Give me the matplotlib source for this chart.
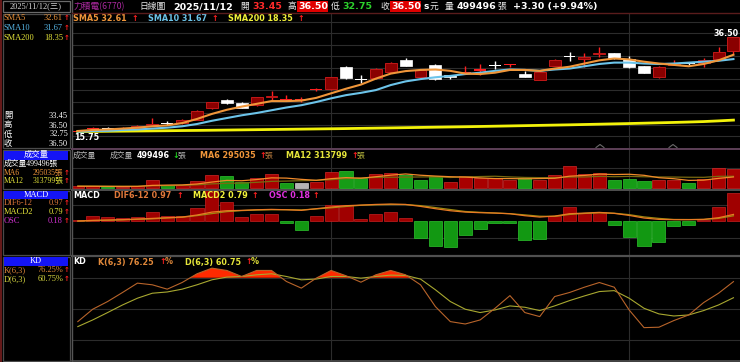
import matplotlib
matplotlib.use('Agg')
import matplotlib.pyplot as plt
from matplotlib.patches import Rectangle
from matplotlib.lines import Line2D

# ---------------- data ----------------
opens  = [15.80,16.40,16.65,16.40,16.60,17.30,17.62,17.70,18.40,20.90,22.70,22.00,21.60,23.30,22.80,22.75,25.00,25.10,30.00,27.40,
          27.50,28.90,31.50,27.70,30.40,28.20,28.60,29.20,30.30,30.45,28.34,27.10,30.16,32.25,31.60,32.80,32.93,31.60,30.16,27.70,
          30.40,30.80,30.90,31.60,33.45]
highs  = [16.05,16.90,16.90,16.80,17.20,18.70,18.10,18.60,20.50,22.40,23.00,22.30,23.40,24.60,23.80,23.30,25.30,27.80,30.10,28.20,
          29.70,31.00,31.85,29.40,30.60,28.30,30.10,30.50,31.30,30.70,29.14,29.00,31.60,33.30,33.07,34.24,33.00,32.33,30.20,30.10,
          31.47,30.90,31.80,34.40,36.50]
lows   = [15.75,16.10,16.30,16.30,16.50,17.10,17.30,17.60,18.30,20.70,21.90,20.90,21.40,22.70,22.50,22.20,24.80,25.00,27.30,26.50,
          27.40,28.80,30.10,27.60,27.10,27.30,28.40,28.20,29.40,29.90,27.80,27.00,30.10,31.30,30.01,32.20,31.70,29.80,28.60,27.60,
          30.30,30.40,29.87,31.50,32.75]
closes = [16.00,16.60,16.55,16.70,17.00,17.60,17.55,18.40,20.40,22.30,22.00,21.10,23.30,23.60,22.90,22.90,25.20,27.70,27.50,27.20,
          29.60,30.90,30.20,29.30,27.30,27.70,28.80,29.40,30.10,30.60,27.83,28.90,31.47,32.15,32.20,33.10,31.80,29.87,28.70,30.00,
          30.70,30.60,31.47,33.20,36.50]
sma5   = [15.97,16.20,16.30,16.50,16.70,17.00,17.20,17.70,18.60,19.70,20.60,21.30,21.90,22.50,22.50,22.60,23.20,24.20,25.20,26.10,
          27.40,28.50,29.05,29.30,29.40,29.10,28.50,28.40,28.70,29.30,29.30,29.10,29.60,30.00,30.70,31.40,31.80,31.60,31.10,30.70,
          30.40,30.10,30.60,31.40,32.61]
sma10  = [15.80,15.97,16.00,16.20,16.30,16.50,16.70,17.00,17.50,18.20,18.80,19.40,19.90,20.50,21.10,21.60,22.30,23.10,23.80,24.30,
          24.90,26.00,26.80,27.30,27.70,28.00,28.40,28.70,29.10,29.40,29.30,29.10,29.40,29.60,30.10,30.60,30.90,30.90,30.70,30.60,
          30.70,30.90,31.10,31.30,31.67]
sma200 = [15.85,15.88,15.91,15.94,15.97,16.00,16.03,16.07,16.10,16.14,16.18,16.22,16.26,16.30,16.34,16.38,16.42,16.46,16.50,16.55,
          16.60,16.65,16.70,16.75,16.80,16.85,16.90,16.96,17.02,17.08,17.14,17.20,17.26,17.32,17.39,17.46,17.53,17.60,17.68,17.76,
          17.84,17.93,18.03,18.18,18.35]
volume = [44000,62000,27000,27000,53000,205000,89000,89000,178000,338000,320000,151000,276000,365000,134000,142000,160000,418000,
          445000,267000,374000,392000,356000,214000,312000,160000,312000,258000,258000,205000,276000,205000,360000,587000,385000,
          410000,210000,250000,190000,205000,222000,142000,249000,534000,499496]
vol_dir = [1,1,-1,1,1,1,-1,1,1,1,-1,-1,1,1,-1,0,1,1,-1,-1,1,1,-1,-1,-1,1,1,1,1,1,-1,1,1,1,1,1,-1,-1,-1,1,1,-1,1,1,1]
vol_ma6  = [45000,45000,42000,40000,42000,70000,77000,82000,107000,159000,203000,194000,225000,271000,264000,231000,205000,249000,
            277000,261000,301000,343000,375000,341000,319000,301000,291000,269000,252000,251000,245000,252000,260000,315000,336000,
            371000,360000,367000,339000,275000,248000,203000,210000,257000,295035]
vol_ma12 = [55000,52000,50000,48000,47000,60000,65000,70000,85000,110000,125000,132000,151000,177000,185000,195000,204000,222000,
            251000,266000,283000,287000,290000,295000,298000,281000,296000,306000,314000,296000,282000,277000,276000,292000,294000,
            311000,302000,310000,300000,295000,292000,287000,285000,312000,313799]
dif  = [0.09,0.18,0.22,0.27,0.35,0.44,0.53,0.62,0.89,1.28,1.46,1.51,1.59,1.64,1.59,1.51,1.73,1.95,2.13,2.21,
        2.30,2.35,2.30,2.04,1.73,1.46,1.28,1.20,1.15,1.06,0.80,0.62,0.75,1.06,1.15,1.24,1.11,0.84,0.49,0.31,
        0.27,0.27,0.31,0.53,0.97]
macd = [0.08,0.15,0.19,0.25,0.32,0.38,0.50,0.59,0.81,1.08,1.34,1.48,1.55,1.59,1.60,1.57,1.70,1.85,2.03,2.19,
        2.25,2.29,2.28,2.14,1.88,1.62,1.36,1.25,1.16,1.07,0.91,0.73,0.71,0.97,1.10,1.18,1.13,0.94,0.64,0.44,
        0.30,0.29,0.30,0.44,0.79]
osc  = [0.012,0.034,0.026,0.020,0.026,0.060,0.034,0.034,0.084,0.196,0.120,0.028,0.044,0.046,-0.012,-0.056,0.032,0.100,0.104,0.016,
        0.046,0.060,0.024,-0.104,-0.152,-0.160,-0.084,-0.046,-0.008,-0.012,-0.114,-0.110,0.036,0.088,0.054,0.060,-0.024,-0.100,-0.154,-0.126,
        -0.030,-0.020,0.012,0.088,0.180]
k_vals = [37.8,49.7,57.1,65.8,74.8,73.2,69.0,75.4,83.8,89.2,87.0,81.2,87.0,87.0,76.4,70.0,79.6,87.0,81.9,75.7,
          82.8,87.0,82.8,73.2,52.2,37.8,35.5,39.4,50.6,62.8,46.5,42.6,61.9,65.8,70.9,75.4,70.9,49.0,32.0,32.4,
          38.8,44.2,56.1,65.1,76.25]
d_vals = [33.0,39.4,46.5,53.8,60.3,65.1,66.3,69.0,73.2,78.0,80.6,81.2,82.8,83.8,81.2,78.0,78.7,81.2,81.2,79.6,
          81.2,82.5,82.2,78.7,68.4,57.1,49.7,46.5,49.0,52.9,51.6,48.4,52.9,58.0,62.5,66.7,67.6,60.3,50.6,45.2,
          43.2,44.2,48.4,53.8,60.75]
month_starts = [17, 37]

# ---------------- figure helpers ----------------
W, H = 740, 362
fig = plt.figure(figsize=(7.4, 3.62), dpi=100, facecolor='black')

SANS = ['DejaVu Sans', 'Noto Sans CJK TC']
CJK = ['Noto Sans CJK TC', 'DejaVu Sans']
SERIF = ['Liberation Serif', 'Noto Sans CJK TC', 'DejaVu Sans']
HS = 5.8   # panel header font size


def rect(x0, y0, x1, y1):
    return [x0 / W, 1 - y1 / H, (x1 - x0) / W, (y1 - y0) / H]


def ftxt(x, y, s, color, size=6.5, fam=None, weight='normal', ha='left', bg=None):
    kw = {}
    if bg is not None:
        kw['bbox'] = dict(boxstyle='square,pad=0.06', fc=bg, ec='none')
    fig.text(x / W, 1 - y / H, s, color=color, fontsize=size, family=fam or SANS,
             fontweight=weight, ha=ha, va='center', **kw)


def frect(x0, y0, x1, y1, fc='none', ec='none', lw=0.8, z=1):
    fig.add_artist(Rectangle((x0 / W, 1 - y1 / H), (x1 - x0) / W, (y1 - y0) / H,
                             transform=fig.transFigure, fc=fc, ec=ec, lw=lw, zorder=z))


def fline(xs, ys, color, lw=1.0, z=6):
    fig.add_artist(Line2D([v / W for v in xs], [1 - v / H for v in ys], color=color, lw=lw, zorder=z))


def new_ax(y0, y1):
    a = fig.add_axes(rect(72, y0, 740, y1))
    a.set_facecolor('black')
    for s in a.spines.values():
        s.set_visible(False)
    a.set_xticks([]); a.set_yticks([])
    a.set_xlim(-0.39, 44.44)
    return a


def hgrid(a, y0, y1, pys, color='#2c2c2c'):
    for py in pys:
        f = (y1 - py) / (y1 - y0)
        a.plot([0, 1], [f, f], transform=a.transAxes, color=color, lw=0.8, zorder=0.5)


def vgrid(a):
    for m in month_starts:
        a.axvline(m, color='#2c2c2c', lw=0.8, zorder=0.5)


n = len(closes)
xs = list(range(n))

# ---------------- main price panel ----------------
ax = new_ax(13, 148)
ax.set_ylim(12.26, 41.73)
hgrid(ax, 13, 148, [22, 33.4, 44.8, 56.2, 67.6, 79, 90.4, 101.8, 113.2, 124.6, 136])
vgrid(ax)
for i in range(n):
    o, h, l, c = opens[i], highs[i], lows[i], closes[i]
    up = c >= o
    wick = '#ff2020' if up else '#ffffff'
    ax.vlines(i, l, h, color=wick, lw=1.0, zorder=3)
    body = abs(c - o)
    if body < 0.25:
        ax.bar(i, 0.25, bottom=(o + c) / 2 - 0.125, width=0.8, color=wick, lw=0, zorder=4)
    elif up:
        ax.bar(i, body, bottom=o, width=0.8, color='#8a0000', edgecolor='#c01818', lw=0.7, zorder=4)
    else:
        ax.bar(i, body, bottom=c, width=0.8, color='#ffffff', edgecolor='#ffffff', lw=0.5, zorder=4)
ax.plot(xs, sma200, color='#f2f20a', lw=2.0, zorder=5)
ax.plot(xs, sma10, color='#6cc4ea', lw=1.5, zorder=6)
ax.plot(xs, sma5, color='#f0963a', lw=1.5, zorder=7)

# ---------------- volume panel ----------------
axv = new_ax(149, 189)
axv.set_ylim(-26700, 1041300)
hgrid(axv, 149, 189, [168])
vgrid(axv)
vcol = {1: ('#a80000', '#d02828'), -1: ('#169c16', '#2ec42e'), 0: ('#b4b4b4', '#d0d0d0')}
for i in range(n):
    fc, ec = vcol[vol_dir[i]]
    axv.bar(i, volume[i], width=0.88, color=fc, edgecolor=ec, lw=0.5, zorder=3)
axv.plot(xs, vol_ma12, color='#7a6a10', lw=0.9, zorder=4)
axv.plot(xs, vol_ma6, color='#f08a2a', lw=0.9, zorder=5)

# ---------------- MACD panel ----------------
axm = new_ax(190, 255)
axm.set_ylim(-0.21, 0.197)
hgrid(axm, 190, 255, [205, 238])
vgrid(axm)
for i in range(n):
    if osc[i] >= 0:
        fc, ec = '#a00000', '#c82020'
    else:
        fc, ec = '#129812', '#2ec42e'
    axm.bar(i, osc[i], width=0.88, color=fc, edgecolor=ec, lw=0.5, zorder=3)
axm2 = axm.twinx()
axm2.set_ylim(-4.43, 4.22)
axm2.set_yticks([])
for s in axm2.spines.values():
    s.set_visible(False)
axm2.plot(xs, macd, color='#9c8a10', lw=0.9, zorder=4)
axm2.plot(xs, dif, color='#e87a24', lw=0.9, zorder=5)

# ---------------- KD panel ----------------
axk = new_ax(256, 361)
axk.set_ylim(-0.1, 100.9)
hgrid(axk, 256, 361, [277.7, 309, 340])
vgrid(axk)
axk.fill_between(xs, 80, k_vals, where=[k > 80 for k in k_vals], interpolate=True,
                 color='#ff2a00', lw=0, zorder=3)
axk.plot(xs, d_vals, color='#a8a830', lw=0.8, zorder=4)
axk.plot(xs, k_vals, color='#b8642a', lw=0.8, zorder=5)

# ---------------- frames / separators ----------------
fline([1, 1], [0, 362], '#7a2020', lw=1.2)
fline([71.5, 71.5], [0, 362], '#555555', lw=1.0)
fline([72, 740], [13, 13], '#5a1c1c', lw=1.0)
fline([72, 740], [148.8, 148.8], '#5e4058', lw=1.4)
fline([72, 740], [189.5, 189.5], '#505050', lw=1.4)
fline([72, 740], [255.5, 255.5], '#505050', lw=1.6)
fline([72, 740], [360.8, 360.8], '#505050', lw=1.2)
for cx in [600, 673]:
    fline([cx - 4, cx, cx + 4], [147.5, 144.5, 147.5], '#6a6a6a', lw=0.8, z=7)

# sidebar boxes
frect(2.5, 0.5, 69.5, 12, ec='#6a6a6a', lw=0.9)
frect(2.5, 13.5, 69.5, 148, ec='#4a4a4a', lw=0.9)
frect(2.5, 149.5, 69.5, 189, ec='#4a4a4a', lw=0.9)
frect(2.5, 190.5, 69.5, 255, ec='#4a4a4a', lw=0.9)
frect(2.5, 256.5, 69.5, 361, ec='#4a4a4a', lw=0.9)
for (y0, y1, lab) in [(150.5, 159.5, '成交量'), (190.8, 198.8, 'MACD'), (257, 265.5, 'KD')]:
    frect(4, y0, 68, y1, fc='#1414f5', ec='none', z=2)
    ftxt(36, (y0 + y1) / 2, lab, '#ffffff', size=6, fam=SERIF, ha='center')

RED_ARROW = '#ff2020'
# top header
ftxt(35.5, 6.3, '2025/11/12(三)', '#d8d8d8', size=6, fam=SERIF, ha='center')
ftxt(74, 6.5, '力積電(6770)', '#a8289c', size=6.3, fam=CJK)
ftxt(139, 6.5, '日線圖', '#e8e8e8', size=6.3, fam=CJK)
ftxt(173, 6.5, '2025/11/12', '#ffffff', size=6.8, weight='bold')
ftxt(240, 6.5, '開', '#e8e8e8', size=6.3, fam=CJK)
ftxt(252, 6.5, '33.45', '#ff2a2a', size=6.8, weight='bold')
ftxt(287, 6.5, '高', '#e8e8e8', size=6.3, fam=CJK)
ftxt(298, 6.5, '36.50', '#ffffff', size=6.8, weight='bold', bg='#e00000')
ftxt(331, 6.5, '低', '#e8e8e8', size=6.3, fam=CJK)
ftxt(342, 6.5, '32.75', '#2cd02c', size=6.8, weight='bold')
ftxt(380, 6.5, '收', '#e8e8e8', size=6.3, fam=CJK)
ftxt(391, 6.5, '36.50', '#ffffff', size=6.8, weight='bold', bg='#e00000')
ftxt(423, 6.5, 's', '#ffffff', size=6.5, weight='bold')
ftxt(430, 6.5, '元', '#e8e8e8', size=6.3, fam=CJK)
ftxt(445, 6.5, '量', '#e8e8e8', size=6.3, fam=CJK)
ftxt(457, 6.5, '499496', '#ffffff', size=6.8, weight='bold')
ftxt(497, 6.5, '張', '#e8e8e8', size=6.3, fam=CJK)
ftxt(513, 6.5, '+3.30 (+9.94%)', '#ffffff', size=6.8, weight='bold')


# sidebar rows
def side_row(y, lab, val, col, arrow=True, size=6):
    ftxt(4, y, lab, col, size=size, fam=SERIF)
    ftxt(63 if arrow else 68, y, val, col, size=size, fam=SERIF, ha='right')
    if arrow:
        ftxt(66.5, y, '↑', RED_ARROW, size=5, weight='bold', ha='center')


side_row(18.5, 'SMA5', '32.61', '#f0963a')
side_row(28, 'SMA10', '31.67', '#58b8e8')
side_row(37.5, 'SMA200', '18.35', '#e6e63a')
side_row(116, '開', '33.45', '#ffffff', arrow=False)
side_row(125.5, '高', '36.50', '#ffffff', arrow=False)
side_row(134.5, '低', '32.75', '#ffffff', arrow=False)
side_row(143.5, '收', '36.50', '#ffffff', arrow=False)
ftxt(4, 164, '成交量499496張', '#ffffff', size=5.6, fam=SERIF)
side_row(172.7, 'MA6', '295035張', '#f0963a', size=5.5)
side_row(181.3, 'MA12', '313799張', '#e6e63a', size=5.5)
side_row(203, 'DIF6-12', '0.97', '#e0783a')
side_row(212, 'MACD2', '0.79', '#e6e63a')
side_row(221, 'OSC', '0.18', '#d030d0')
side_row(270, 'K(6,3)', '76.25%', '#e0883a')
side_row(279, 'D(6,3)', '60.75%', '#d8d840')

# panel headers
ftxt(73, 18.5, 'SMA5 32.61', '#f0963a', size=HS, weight='bold')
ftxt(131, 18.5, '↑', RED_ARROW, size=HS, weight='bold')
ftxt(148, 18.5, 'SMA10 31.67', '#6cc4ea', size=HS, weight='bold')
ftxt(211, 18.5, '↑', RED_ARROW, size=HS, weight='bold')
ftxt(228, 18.5, 'SMA200 18.35', '#f2f23a', size=HS, weight='bold')
ftxt(297, 18.5, '↑', RED_ARROW, size=HS, weight='bold')
ftxt(74, 137.5, '15.75', '#ffffff', size=HS, weight='bold')
ftxt(739, 33, '36.50', '#ffffff', size=HS, weight='bold', ha='right')

ftxt(73, 156, '成交量', '#b8b8b8', size=5.6, fam=CJK)
ftxt(110, 156, '成交量', '#b8b8b8', size=5.6, fam=CJK)
ftxt(137, 156, '499496', '#ffffff', size=HS, weight='bold')
ftxt(172, 156, '↓', '#20d020', size=HS, weight='bold')
ftxt(178, 156, '張', '#b8b8b8', size=5.6, fam=CJK)
ftxt(200, 156, 'MA6 295035', '#f0963a', size=HS, weight='bold')
ftxt(259, 156, '↑', RED_ARROW, size=HS, weight='bold')
ftxt(265, 156, '張', '#c08040', size=5.6, fam=CJK)
ftxt(286, 156, 'MA12 313799', '#e6e63a', size=HS, weight='bold')
ftxt(351, 156, '↑', RED_ARROW, size=HS, weight='bold')
ftxt(357, 156, '張', '#c0c040', size=5.6, fam=CJK)

ftxt(73, 195.5, 'MACD', '#ffffff', size=HS, weight='bold')
ftxt(114, 195.5, 'DIF6-12 0.97', '#e0783a', size=HS, weight='bold')
ftxt(176, 195.5, '↑', RED_ARROW, size=HS, weight='bold')
ftxt(193, 195.5, 'MACD2 0.79', '#f2f23a', size=HS, weight='bold')
ftxt(251, 195.5, '↑', RED_ARROW, size=HS, weight='bold')
ftxt(269, 195.5, 'OSC 0.18', '#e030e0', size=HS, weight='bold')
ftxt(312, 195.5, '↑', RED_ARROW, size=HS, weight='bold')

ftxt(73, 262, 'KD', '#ffffff', size=HS, weight='bold')
ftxt(98, 262, 'K(6,3) 76.25', '#e0883a', size=HS, weight='bold')
ftxt(159, 262, '↑', RED_ARROW, size=HS, weight='bold')
ftxt(165, 262, '%', '#e0883a', size=HS, weight='bold')
ftxt(185, 262, 'D(6,3) 60.75', '#e6e63a', size=HS, weight='bold')
ftxt(245, 262, '↑', RED_ARROW, size=HS, weight='bold')
ftxt(251, 262, '%', '#e6e63a', size=HS, weight='bold')

fig.savefig('out.png', dpi=100, facecolor='black')
